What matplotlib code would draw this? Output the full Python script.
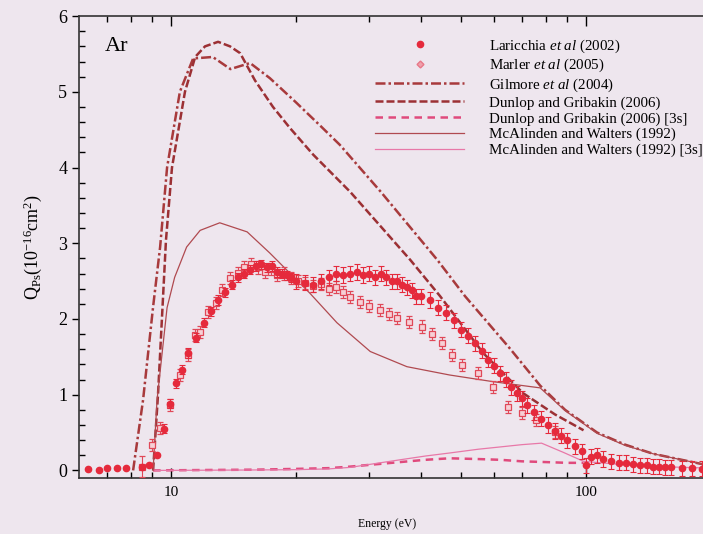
import numpy as np
import matplotlib.pyplot as plt
from matplotlib.lines import Line2D
from matplotlib.ticker import FixedLocator, NullFormatter, MultipleLocator

plt.rcParams['font.family'] = ['Liberation Serif', 'DejaVu Serif']
plt.rcParams['mathtext.fontset'] = 'custom'
plt.rcParams['mathtext.rm'] = 'Liberation Serif'
plt.rcParams['mathtext.it'] = 'Liberation Serif:italic'

# Laricchia et al (2002) measurements
lar_e = [6.3, 6.7, 7.0, 7.4, 7.8, 8.5, 8.85, 9.25, 9.6, 9.95, 10.3, 10.6, 11.0, 11.5,
         12.0, 12.5, 13.0, 13.5, 14.0, 14.5, 15.0, 15.5, 16.0, 16.5, 17.0, 17.5, 18.0,
         18.5, 19.0, 19.5, 20.0, 21, 22, 23, 24, 25, 26, 27, 28, 29, 30, 31, 32, 33,
         34, 35, 36, 37, 38, 39, 40, 42, 44, 46, 48, 50, 52, 54, 56, 58, 60, 62, 64,
         66, 68, 70, 72, 75, 78, 81, 84, 87, 90, 94, 98, 100, 103, 106, 110, 115, 120,
         125, 130, 135, 140, 145, 150, 155, 160, 170, 180, 190]
lar_q = [0.02, 0.01, 0.03, 0.03, 0.03, 0.05, 0.07, 0.20, 0.55, 0.88, 1.15, 1.33, 1.55, 1.75,
         1.95, 2.10, 2.25, 2.35, 2.45, 2.55, 2.60, 2.65, 2.70, 2.72, 2.68, 2.70, 2.62,
         2.60, 2.58, 2.55, 2.50, 2.48, 2.45, 2.50, 2.55, 2.60, 2.58, 2.60, 2.62, 2.58,
         2.60, 2.55, 2.60, 2.55, 2.50, 2.50, 2.45, 2.42, 2.38, 2.30, 2.30, 2.25, 2.15,
         2.08, 1.98, 1.86, 1.78, 1.68, 1.58, 1.46, 1.38, 1.28, 1.20, 1.10, 1.02, 0.95,
         0.86, 0.77, 0.68, 0.60, 0.52, 0.46, 0.40, 0.32, 0.25, 0.07, 0.18, 0.20, 0.15,
         0.12, 0.10, 0.10, 0.08, 0.07, 0.07, 0.05, 0.05, 0.04, 0.04, 0.03, 0.03, 0.02]
lar_err = [0.01] * 8 + [0.06] * 22 + [0.1] * 62

# Marler et al (2005) measurements
mar_e = [8.5, 9.0, 9.4, 9.95, 10.5, 11.0, 11.4, 11.75, 12.3, 12.8, 13.3, 13.9, 14.5,
         15.0, 15.6, 16.2, 16.8, 17.4, 18.0, 18.7, 19.4, 20.2, 21.0, 22.0, 23.0, 24.0,
         25.0, 26.0, 27.0, 28.5, 30.0, 31.8, 33.5, 35.0, 37.5, 40.3, 42.5, 44.9, 47.5,
         50.3, 55.0, 59.8, 64.9, 70.0, 75.6, 84.0]
mar_q = [0.05, 0.34, 0.56, 0.86, 1.26, 1.52, 1.79, 1.83, 2.09, 2.21, 2.38, 2.54, 2.61,
         2.69, 2.72, 2.68, 2.62, 2.66, 2.58, 2.60, 2.54, 2.50, 2.48, 2.44, 2.46, 2.40,
         2.42, 2.36, 2.29, 2.22, 2.17, 2.12, 2.06, 2.01, 1.96, 1.90, 1.80, 1.68, 1.52,
         1.39, 1.29, 1.10, 0.84, 0.76, 0.67, 0.51]
mar_err = [0.14] + [0.08] * 45

# Gilmore et al (2004)
gil_e = [8.1, 8.56, 9.05, 9.41, 9.78, 10.5, 11.3, 12.6, 13.9, 15.5, 17.3, 20.0, 22.9,
         25.5, 32.0, 43.8, 51.1, 65.3, 77.5, 89.0, 106.3, 124.2, 145, 191.6, 200]
gil_q = [0, 0.93, 2.16, 2.95, 4.0, 5.0, 5.44, 5.46, 5.30, 5.38, 5.18, 4.86, 4.55,
         4.30, 3.68, 2.78, 2.30, 1.62, 1.12, 0.80, 0.50, 0.34, 0.22, 0.08, 0.06]

# Dunlop and Gribakin (2006)
dg_e = [9.05, 9.3, 9.72, 10.05, 10.8, 11.43, 12.07, 12.98, 13.87, 14.67, 15.93, 17.6,
        19.35, 22.0, 27.0, 37.7, 44.5, 56.5, 70.5, 84.1, 98.6]
dg_q = [0, 1.0, 3.04, 4.0, 5.0, 5.46, 5.6, 5.66, 5.6, 5.51, 5.15, 4.8, 4.52, 4.17,
        3.68, 2.78, 2.3, 1.55, 1.02, 0.74, 0.53]

dg3s_e = [9.05, 12, 16, 20, 24, 27, 31, 35.6, 41, 46.9, 55, 62.1, 70, 80, 90, 98.6]
dg3s_q = [0, 0.005, 0.01, 0.02, 0.03, 0.05, 0.08, 0.11, 0.14, 0.16, 0.15, 0.14, 0.12,
          0.11, 0.10, 0.10]

# McAlinden and Walters (1992)
mw_e = [9.05, 9.25, 9.78, 10.2, 10.9, 11.75, 13.1, 15.25, 17.3, 21.6, 25.1, 30.2, 37.0,
        46.9, 60.0, 77.5, 89.0, 106.3, 124.2, 145, 191.6, 200]
mw_q = [0, 0.93, 2.15, 2.55, 2.95, 3.17, 3.27, 3.15, 2.87, 2.34, 1.95, 1.57, 1.37, 1.26,
        1.17, 1.09, 0.79, 0.49, 0.33, 0.22, 0.08, 0.06]

mw3s_e = [9.15, 15, 20, 24, 27, 31, 35.6, 41, 46.9, 55, 62.1, 70, 78.1, 88, 98.6, 120,
          150, 200]
mw3s_q = [0, 0.005, 0.01, 0.02, 0.04, 0.09, 0.14, 0.19, 0.23, 0.28, 0.31, 0.34, 0.36,
          0.24, 0.12, 0.08, 0.05, 0.03]

red = '#e52a3c'
pink = '#e04858'
bg = '#eee6ee'

fig = plt.figure(figsize=(7.03, 5.34), dpi=100, facecolor=bg)
ax = fig.add_axes([0.1124, 0.1049, 0.899, 0.865], facecolor=bg)

gil, = ax.plot(gil_e, gil_q, color='#a83a3c', lw=1.8, dashes=(4, 1.2, 1, 1.2), zorder=3)
dg, = ax.plot(dg_e, dg_q, color='#9c3034', lw=1.8, dashes=(3.2, 1.2), zorder=3)
dg3s, = ax.plot(dg3s_e, dg3s_q, color='#e04a7c', lw=1.8, dashes=(3, 2.2), zorder=3)
mw, = ax.plot(mw_e, mw_q, color='#b04a50', lw=0.9, zorder=3)
mw3s, = ax.plot(mw3s_e, mw3s_q, color='#e878a8', lw=0.9, zorder=3)

ax.errorbar(mar_e, mar_q, yerr=mar_err, fmt='s', ms=4, mfc='#f6d0d6', mec=pink,
            mew=0.9, ecolor=pink, elinewidth=0.8, capsize=2.5, capthick=0.8, zorder=4)
ax.errorbar(lar_e, lar_q, yerr=lar_err, fmt='o', ms=4.5, mfc=red, mec=red,
            ecolor=red, elinewidth=0.8, capsize=2.5, capthick=0.8, zorder=5)

ax.set_xscale('log')
ax.set_xlim(6, 200)
ax.set_ylim(-0.1, 6)

ax.xaxis.set_major_locator(FixedLocator([10, 100]))
ax.xaxis.set_minor_locator(FixedLocator([7, 8, 9, 20, 30, 40, 50, 60, 70, 80, 90, 200]))
ax.xaxis.set_minor_formatter(NullFormatter())
ax.set_xticklabels(['10', '100'])
ax.yaxis.set_major_locator(MultipleLocator(1))
ax.yaxis.set_minor_locator(MultipleLocator(0.2))

ax.tick_params(axis='x', which='major', direction='in', length=7, width=1,
               top=True, labelsize=11, pad=6)
ax.tick_params(axis='x', which='minor', direction='in', length=4, width=1, top=True)
ax.tick_params(axis='y', which='major', direction='out', length=5, width=1, labelsize=13)
ax.tick_params(axis='y', which='minor', direction='in', length=4, width=1)
for s in ax.spines.values():
    s.set_linewidth(1.2)
    s.set_color('#333333')

ax.set_xlabel('Energy (eV)', fontsize=8.5)
ax.xaxis.set_label_coords(0.487, -0.087)
ax.set_ylabel(r'Q$_{\rm Ps}$(10$^{-16}$cm$^2$)', fontsize=13, labelpad=10)
ax.text(0.04, 0.925, 'Ar', transform=ax.transAxes, fontsize=16)

# plain marker handles for the two data sets
lar_h = Line2D([], [], ls='none', marker='o', ms=4.5, mfc=red, mec=red)
mar_h = Line2D([], [], ls='none', marker='D', ms=3.5, mfc='#f0a0ac', mec='#e87888')
ax.legend([lar_h, mar_h, gil, dg, dg3s, mw, mw3s],
          [r'Laricchia $et\ al$ (2002)', r'Marler $et\ al$ (2005)',
           r'Gilmore $et\ al$ (2004)', 'Dunlop and Gribakin (2006)',
           'Dunlop and Gribakin (2006) [3s]', 'McAlinden and Walters (1992)',
           'McAlinden and Walters (1992) [3s]'],
          loc='upper left', bbox_to_anchor=(0.4525, 0.977), frameon=False,
          fontsize=10.8, handlelength=5.87, handletextpad=1.67, labelspacing=0.15,
          borderpad=0.2, numpoints=1)

fig.savefig('out.png', dpi=100, facecolor=bg)
